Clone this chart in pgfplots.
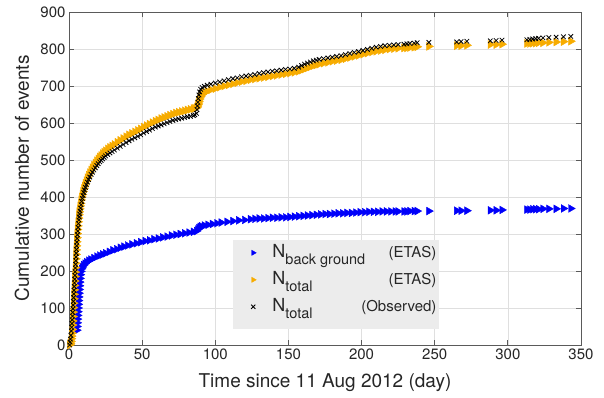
\documentclass[border=0pt]{standalone}
\usepackage{pgfplots}
\pgfplotsset{compat=1.18}
\usepackage{pgfplotstable}
\usepackage{fontspec}
\setmainfont{TeX Gyre Heros}

\definecolor{etasorange}{RGB}{247,172,0}
\definecolor{bgblue}{RGB}{0,0,250}
\definecolor{axgray}{RGB}{90,90,90}
\definecolor{txtgray}{RGB}{38,38,38}

% Event times (days) with observed and ETAS cumulative counts
\pgfplotstableread{
t obs etas
0.4 0 0
0.7 8 2
1.0 16 5
1.3 26 10
1.6 38 17
1.8 48 24
2.0 58 32
2.2 68 42
2.4 78 54
2.55 88 65
2.7 98 77
2.85 108 89
3.0 118 101
3.15 128 113
3.3 138 125
3.45 148 137
3.6 158 149
3.75 168 161
3.9 178 173
4.05 188 185
4.2 198 197
4.35 208 209
4.5 218 221
4.65 228 233
4.8 238 245
4.95 248 257
5.1 258 268
5.25 268 279
5.4 278 290
5.6 288 301
5.8 298 312
6.0 308 322
6.25 318 333
6.5 328 343
6.75 338 352
7.0 346 360
7.3 354 368
7.6 362 376
7.9 370 383
8.3 379 392
8.7 388 400
9.1 396 407
9.6 404 415
10.1 412 423
10.6 419 430
11.2 426 437
11.9 433 444
12.6 440 452
13.4 447 459
14.2 454 466
15.1 461 473
16.0 467 479
17.0 473 486
18.0 479 492
19.0 485 498
20.0 490 503
21.0 495 508
22.0 499 512
23.0 503 517
24.0 507 521
25.0 511 525
26.5 515 530
28.0 519 534
29.5 523 538
31.0 527 542
33 532 548
35 537 553
37 542 558
39 547 563
41 552 568
43 556 572
45 560 576
47 564 580
49 568 584
51 573 589
53 577 593
55 581 597
57 585 601
59 589 605
61 592 608
63 595 612
65 598 615
67 601 618
69 604 621
71 607 624
73 609 627
75 611 629
77 613 631
79 615 633
81 617 635
83 618 637
85 620 639
86 622 640
87.2 626 641
87.5 636 643
87.8 646 646
88.1 656 650
88.4 666 654
88.8 676 659
89.3 684 665
90.0 691 671
91.0 696 677
92.5 699 682
94.5 702 686
97 705 690
100 708 693
103 711 697
106 714 700
109 717 703
112 720 706
115 722 709
118 725 712
121 727 714
124 729 717
127 731 719
130 734 721
133 736 723
136 738 725
139 740 727
142 741 729
145 743 731
148 745 733
151 746 735
154 748 737
157 751 740
159 755 743
161 759 746
163 762 749
165 765 752
167 768 755
169 770 757
171 772 759
174 774 762
177 776 764
180 778 767
183 780 769
186 782 771
189 785 774
192 788 777
195 791 780
198 793 783
201 796 786
204 799 789
207 802 792
210 805 794
213 807 796
216 809 798
219 810 800
222 811 801
225 812 802
229 813 803
231 814 803
233 815 804
236 816 805
238 817 806
246 818 807
265 819 809
268 820 809
272 821 810
288 822 812
292 823 812
296 824 813
313 825 815
315 826 815
317 827 816
319 828 816
321 829 817
324 830 817
328 831 818
333 832 819
338 833 820
343 834 821
}\eventtable

% Background (ETAS) cumulative count
\pgfplotstableread{
t bg
5.3 40
5.45 50
5.6 60
5.75 70
5.9 80
6.05 90
6.2 100
6.35 110
6.5 120
6.65 130
6.8 140
6.95 150
7.1 160
7.3 170
7.5 180
7.75 190
8.1 199
8.6 206
9.2 211
10.0 216
11.0 220
12.0 224
13.5 228
15.0 231
17.0 235
19.0 239
21.0 242
23.0 245
25.0 248
27.5 252
30.0 256
32.5 259
35.0 263
37.5 266
40.0 269
43.0 272
46.0 275
49.0 278
52.0 281
55.0 283
58.0 286
61.0 288
64.0 291
67.0 293
70.0 296
73.0 298
76.0 300
79.0 302
82.0 304
85.0 306
87.2 308
88.0 312
88.8 316
89.6 319
90.5 321
92.5 323
95.0 325
98.0 327
101.0 329
104.0 331
108.0 333
112.0 335
116.0 337
120.0 338
124 340
127 341
130 342
133 342
136 343
139 344
142 344
145 345
148 345
151 346
154 347
157 348
160 349
163 350
166 351
169 352
172 353
175 354
178 354
181 355
184 356
187 356
190 357
193 357
196 358
199 359
202 359
205 360
208 360
211 360
214 361
217 361
220 361
223 361
225 361
229 361
231 361
233 362
236 362
238 362
246 362
265 363
268 363
272 363
288 364
292 364
296 365
313 366
315 366
317 367
319 367
321 367
324 368
328 368
333 368
338 369
343 369
}\bgtable

% Legend entry: N with a subscript, and a right-flushed source tag
\newcommand{\legentry}[2]{\makebox[164pt][l]{\fontsize{18}{18}\selectfont N\raisebox{-7.5pt}{\fontsize{14.5}{14.5}\selectfont #1}\hfill\fontsize{15}{15}\selectfont #2}}

\begin{document}
\begin{tikzpicture}
\useasboundingbox (0,0) rectangle (604pt,397pt);
\begin{axis}[
  at={(69pt,52pt)}, anchor=south west,
  scale only axis, width=512pt, height=333pt,
  xmin=0, xmax=350, ymin=0, ymax=900,
  xtick={0,50,...,350}, ytick={0,100,...,900},
  tick align=inside, tick pos=both,
  major tick length=5pt,
  grid=major,
  major grid style={gray!25, line width=0.7pt},
  axis line style={axgray, line width=0.9pt},
  every tick/.style={axgray, line width=0.8pt},
  /pgf/number format/assume math mode=true,
  tick label style={font=\fontsize{15}{18}\selectfont, text=txtgray},
  label style={font=\fontsize{19}{22}\selectfont, text=txtgray},
  xlabel={Time since 11 Aug 2012 (day)},
  ylabel={Cumulative number of events},
  xlabel style={at={(axis description cs:0.5,-0.114)}, anchor=center},
  ylabel style={at={(axis description cs:-0.092,0.5)}, anchor=center},
  legend style={at={(axis description cs:0.320,0.315)}, anchor=north west,
    fill=gray!15, draw=none, inner xsep=3pt, inner ysep=4pt,
    nodes={inner sep=0pt, text height=13pt, text depth=14pt, text=txtgray}},
  legend cell align=left,
  legend image code/.code={
    \path (0pt,0pt) (36pt,0pt);
    \draw[#1, mark size=3pt] plot coordinates {(17pt,5pt)};
  },
]
\addplot[only marks, mark=triangle*, mark size=4.5pt, color=bgblue,
  mark options={rotate=-90}] table[x=t, y=bg] {\bgtable};
\addlegendentry{\legentry{back ground}{(ETAS)}}

\addplot[only marks, mark=triangle*, mark size=4.6pt, color=etasorange,
  mark options={rotate=-90}] table[x=t, y=etas] {\eventtable};
\addlegendentry{\legentry{total}{(ETAS)}}

\addplot[only marks, mark=x, mark size=3.2pt, color=black,
  mark options={line width=0.8pt}] table[x=t, y=obs] {\eventtable};
\addlegendentry{\legentry{total}{(Observed)}}
\end{axis}
\end{tikzpicture}
\end{document}
